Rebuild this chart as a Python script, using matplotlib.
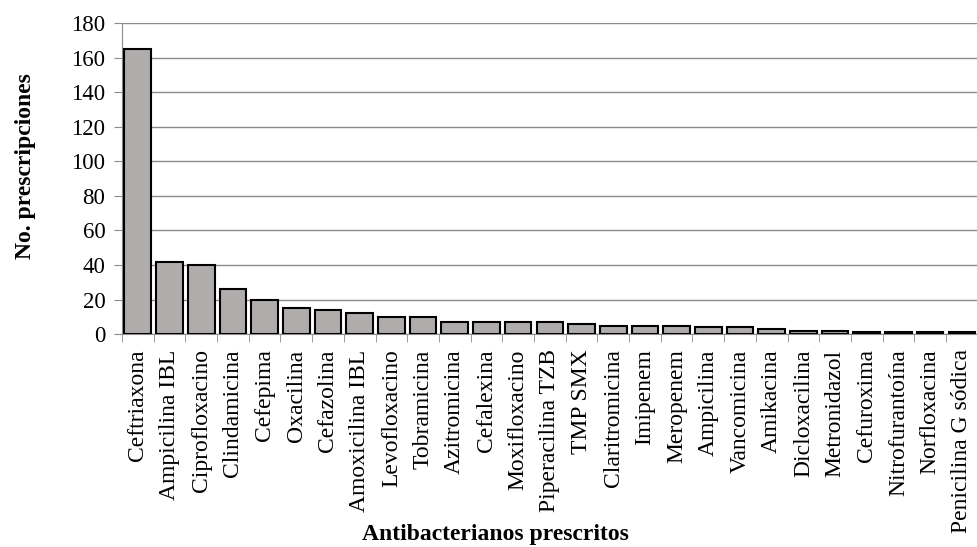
import numpy as np
import matplotlib
matplotlib.use('Agg')
import matplotlib.pyplot as plt
import matplotlib.ticker as mticker

categories = [
    'Ceftriaxona', 'Ampicilina IBL', 'Ciprofloxacino', 'Clindamicina', 'Cefepima',
    'Oxacilina', 'Cefazolina', 'Amoxicilina IBL', 'Levofloxacino', 'Tobramicina',
    'Azitromicina', 'Cefalexina', 'Moxifloxacino', 'Piperacilina TZB', 'TMP SMX',
    'Claritromicina', 'Imipenem', 'Meropenem', 'Ampicilina', 'Vancomicina',
    'Amikacina', 'Dicloxacilina', 'Metronidazol', 'Cefuroxima', 'Nitrofurantoína',
    'Norfloxacina', 'Penicilina G sódica',
]
prescriptions = [165, 42, 40, 26, 20, 15, 14, 12, 10, 10, 7, 7, 7, 7, 6,
                 5, 5, 5, 4, 4, 3, 2, 2, 1, 1, 1, 1]
y_ticks = [0, 20, 40, 60, 80, 100, 120, 140, 160, 180]

plt.rcParams['font.family'] = ['Liberation Serif', 'DejaVu Serif']

fig = plt.figure(figsize=(9.78, 5.47), dpi=100)
ax = fig.add_axes([0.1247, 0.389, 0.875, 0.569])

x = np.arange(len(categories))
ax.bar(x, prescriptions, width=0.84, color='#b0acac', edgecolor='black',
       linewidth=1.5, zorder=3)

ax.set_ylim(0, 180)
ax.set_xlim(-0.5, len(categories) - 0.5)
ax.set_yticks(y_ticks)
ax.yaxis.grid(True, color='#8c8c8c', linewidth=1, zorder=0)
ax.tick_params(axis='y', labelsize=16.5, length=6, color='#8c8c8c', direction='out', pad=6)

# category labels in the middle, tick marks on the boundaries
ax.set_xticks(x)
ax.set_xticklabels(categories, rotation=90, fontsize=17)
ax.tick_params(axis='x', which='major', length=0, pad=11)
ax.xaxis.set_minor_locator(mticker.FixedLocator(np.arange(-0.5, len(categories), 1)))
ax.tick_params(axis='x', which='minor', length=6, color='#8c8c8c', direction='out')

for s in ['top', 'right']:
    ax.spines[s].set_visible(False)
ax.spines['left'].set_color('#8c8c8c')
ax.spines['bottom'].set_color('#8c8c8c')

fig.text(0.026, 0.697, 'No. prescripciones', fontsize=17, fontweight='bold',
         rotation=90, ha='center', va='center')
fig.text(0.507, 0.022, 'Antibacterianos prescritos', fontsize=17, fontweight='bold',
         ha='center', va='center')

fig.savefig('out.png', dpi=100)
